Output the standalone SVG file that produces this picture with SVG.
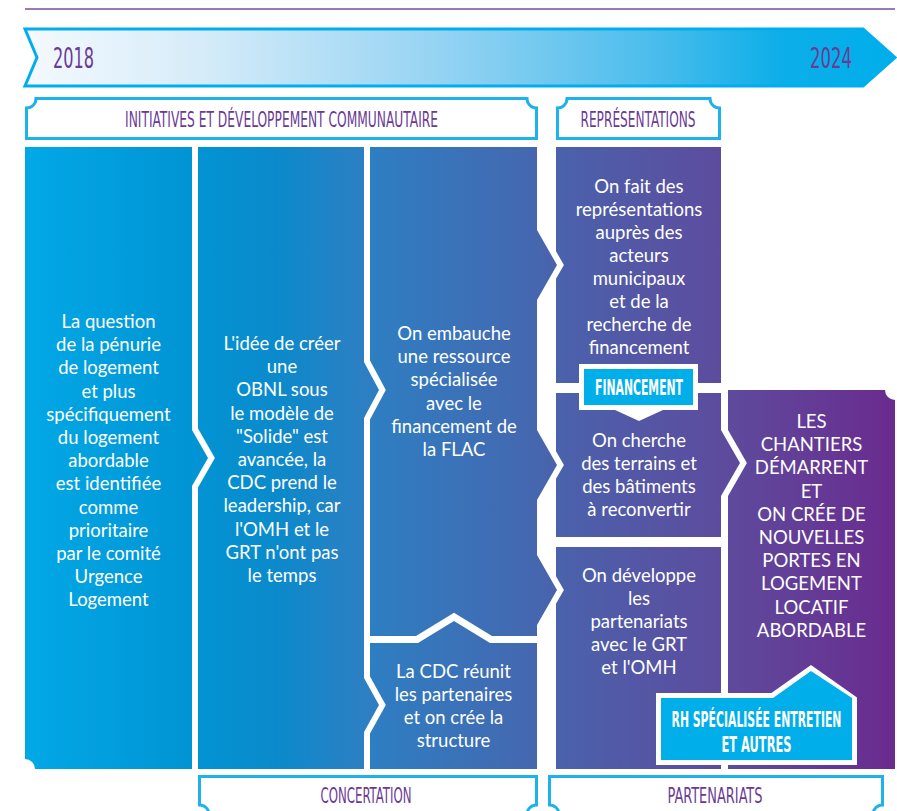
<svg xmlns="http://www.w3.org/2000/svg" width="897" height="811" viewBox="0 0 897 811">
<defs>
<linearGradient id="gArrow" gradientUnits="userSpaceOnUse" x1="25" y1="0" x2="895" y2="0">
<stop offset="0" stop-color="#f4f9fe"/>
<stop offset="0.2" stop-color="#d6ecf9"/>
<stop offset="0.49" stop-color="#92d2f2"/>
<stop offset="0.72" stop-color="#4cbdec"/>
<stop offset="0.87" stop-color="#0caee9"/>
<stop offset="1" stop-color="#00aeea"/>
</linearGradient>
<linearGradient id="gCol" gradientUnits="userSpaceOnUse" x1="25" y1="0" x2="895" y2="0">
<stop offset="0" stop-color="#02a8e6"/>
<stop offset="0.19" stop-color="#0194d4"/>
<stop offset="0.29" stop-color="#0b8acb"/>
<stop offset="0.39" stop-color="#2d7fc3"/>
<stop offset="0.58" stop-color="#4468b0"/>
<stop offset="0.61" stop-color="#4a62ac"/>
<stop offset="0.8" stop-color="#5d4c9e"/>
<stop offset="1" stop-color="#6a2b8e"/>
</linearGradient>
</defs>
<style>
.col{fill:url(#gCol);}
.frame{fill:#fff;stroke:#1eb2ea;stroke-width:3;}
.hd{font-family:"Liberation Sans Narrow","DejaVu Sans Condensed",sans-serif;font-size:21px;fill:#6a3a96;text-anchor:middle;}
.yr{font-family:"Liberation Sans Narrow","DejaVu Sans Condensed",sans-serif;font-size:28px;fill:#6a3a96;}
.tag{font-family:"Liberation Sans Narrow","DejaVu Sans Condensed",sans-serif;font-size:22px;fill:#fff;text-anchor:middle;font-weight:bold;}
.bd{font-family:Lato,"Noto Sans",sans-serif;font-size:18.5px;fill:#fff;text-anchor:middle;}
.cy{fill:#00aeea;}
.wh{fill:#fff;}
</style>
<rect width="897" height="811" fill="#fff"/>
<line x1="25" y1="9" x2="895" y2="9" stroke="#7a4c9f" stroke-width="1.3"/>

<g id="timeline">
<path d="M25,29 H863 L895,57.5 L863,86 H25 L37,57.5 Z" fill="url(#gArrow)" stroke="#00aeef" stroke-width="3" stroke-linejoin="miter"/>
<text class="yr" transform="translate(53,68) scale(0.7,1)" textLength="58.6" lengthAdjust="spacingAndGlyphs">2018</text>
<text class="yr" transform="translate(810,68) scale(0.7,1)" textLength="60" lengthAdjust="spacingAndGlyphs">2024</text>
</g>

<g id="hdr-initiatives">
<path class="frame" d="M26.5,138.5 V108 A9.5,9.5 0 0 0 36,98.5 H527 A9.5,9.5 0 0 0 536.5,108 V138.5 Z"/>
<text class="hd" transform="translate(281.5,127) scale(0.62,1)" textLength="504.8" lengthAdjust="spacingAndGlyphs">INITIATIVES ET DÉVELOPPEMENT COMMUNAUTAIRE</text>
</g>
<g id="hdr-representations">
<path class="frame" d="M557.5,138.5 V108 A9.5,9.5 0 0 0 567,98.5 H710 A9.5,9.5 0 0 0 719.5,108 V138.5 Z"/>
<text class="hd" transform="translate(638,127) scale(0.62,1)" textLength="185.5" lengthAdjust="spacingAndGlyphs">REPRÉSENTATIONS</text>
</g>

<g id="connectors"></g>

<g id="n1">
<path class="col" d="M25,147 H192 V430 L208,458 L192,486 V769 H35 A10,10 0 0 0 25,759 Z"/>
<text class="bd"><tspan x="108.5" y="328">La question</tspan><tspan x="108.5" y="351.2">de la pénurie</tspan><tspan x="108.5" y="374.4">de logement</tspan><tspan x="108.5" y="397.6">et plus</tspan><tspan x="108.5" y="420.8">spécifiquement</tspan><tspan x="108.5" y="444">du logement</tspan><tspan x="108.5" y="467.2">abordable</tspan><tspan x="108.5" y="490.4">est identifiée</tspan><tspan x="108.5" y="513.6">comme</tspan><tspan x="108.5" y="536.8">prioritaire</tspan><tspan x="108.5" y="560">par le comité</tspan><tspan x="108.5" y="583.2">Urgence</tspan><tspan x="108.5" y="606.4">Logement</tspan></text>
</g>

<g id="n2">
<path class="col" d="M198,147 H364 V362 L379,390 L364,418 V678 L379,705 L364,732 V769 H198 V487.6 L214.9,458 L198,428.4 Z"/>
<text class="bd"><tspan x="282" y="350">L'idée de créer</tspan><tspan x="282" y="373.2">une</tspan><tspan x="282" y="396.4">OBNL sous</tspan><tspan x="282" y="419.6">le modèle de</tspan><tspan x="282" y="442.8">"Solide" est</tspan><tspan x="282" y="466">avancée, la</tspan><tspan x="282" y="489.2">CDC prend le</tspan><tspan x="282" y="512.4">leadership, car</tspan><tspan x="282" y="535.6">l'OMH et le</tspan><tspan x="282" y="558.8">GRT n'ont pas</tspan><tspan x="282" y="582">le temps</tspan></text>
</g>

<g id="n3">
<path class="col" d="M370,147 H537 V230 L557,265 L537,300 V430 L557,465 L537,500 V555 L557,590 L537,625 V636 H492 L454,612.8 L416,636 H370 V419.5 L385.8,390 L370,360.5 Z"/>
<text class="bd"><tspan x="454" y="340">On embauche</tspan><tspan x="454" y="363.2">une ressource</tspan><tspan x="454" y="386.4">spécialisée</tspan><tspan x="454" y="409.6">avec le</tspan><tspan x="454" y="432.8">financement de</tspan><tspan x="454" y="456">la FLAC</tspan></text>
</g>

<g id="n4">
<path class="col" d="M370,643 H418 L454,621 L490,643 H537 V769 H370 V733.5 L385.8,705 L370,676.5 Z"/>
<text class="bd"><tspan x="453.5" y="678">La CDC réunit</tspan><tspan x="453.5" y="701">les partenaires</tspan><tspan x="453.5" y="724">et on crée la</tspan><tspan x="453.5" y="747">structure</tspan></text>
</g>

<g id="n5">
<path class="col" d="M556,147 H721 V383 H556 V278.8 L563.9,265 L556,251.2 Z"/>
<text class="bd"><tspan x="639" y="193">On fait des</tspan><tspan x="639" y="216">représentations</tspan><tspan x="639" y="239">auprès des</tspan><tspan x="639" y="262">acteurs</tspan><tspan x="639" y="285">municipaux</tspan><tspan x="639" y="308">et de la</tspan><tspan x="639" y="331">recherche de</tspan><tspan x="639" y="354">financement</tspan></text>
</g>

<g id="n6">
<path class="col" d="M556,393 H721 V430 L740,463 L721,496 V537 H556 V478.8 L563.9,465 L556,451.2 Z"/>
<text class="bd"><tspan x="639" y="447">On cherche</tspan><tspan x="639" y="470">des terrains et</tspan><tspan x="639" y="493">des bâtiments</tspan><tspan x="639" y="516">à reconvertir</tspan></text>
</g>

<g id="n7">
<path class="col" d="M556,547 H721 V769 H556 V603.8 L563.9,590 L556,576.2 Z"/>
<text class="bd"><tspan x="639" y="582">On développe</tspan><tspan x="639" y="605">les</tspan><tspan x="639" y="628">partenariats</tspan><tspan x="639" y="651">avec le GRT</tspan><tspan x="639" y="674">et l'OMH</tspan></text>
</g>

<g id="n8">
<path class="col" d="M728,390 H885 A10,10 0 0 0 895,400 V769 H728 V495.9 L746.9,463 L728,430.1 Z"/>
<text class="bd"><tspan x="811.5" y="428">LES</tspan><tspan x="811.5" y="451.2">CHANTIERS</tspan><tspan x="811.5" y="474.4">DÉMARRENT</tspan><tspan x="811.5" y="497.6">ET</tspan><tspan x="811.5" y="520.8">ON CRÉE DE</tspan><tspan x="811.5" y="544">NOUVELLES</tspan><tspan x="811.5" y="567.2">PORTES EN</tspan><tspan x="811.5" y="590.4">LOGEMENT</tspan><tspan x="811.5" y="613.6">LOCATIF</tspan><tspan x="811.5" y="636.8">ABORDABLE</tspan></text>
</g>

<g id="tag-financement">
<path class="wh" d="M579,364 H698 V410 H663 L639,421 L615,410 H579 Z"/>
<rect class="cy" x="584" y="369" width="109" height="36"/>
<text class="tag" transform="translate(639,395) scale(0.62,1)" textLength="142" lengthAdjust="spacingAndGlyphs">FINANCEMENT</text>
</g>

<g id="tag-rh">
<path class="wh" d="M656,693 H771.4 L811,664.9 L857,697.6 V765 H656 Z"/>
<path class="cy" d="M661,698 H773 L811,671 L852,698 V760 H661 Z"/>
<text class="tag" transform="translate(756.5,727) scale(0.62,1)" textLength="274" lengthAdjust="spacingAndGlyphs">RH SPÉCIALISÉE ENTRETIEN</text>
<text class="tag" transform="translate(756.5,752) scale(0.62,1)" textLength="113" lengthAdjust="spacingAndGlyphs">ET AUTRES</text>
</g>

<g id="ftr-concertation">
<path class="frame" d="M199.5,776.5 H536.5 V805 A9.5,9.5 0 0 0 527,814.5 H209 A9.5,9.5 0 0 0 199.5,805 Z"/>
<text class="hd" transform="translate(366,803) scale(0.62,1)" textLength="146.8" lengthAdjust="spacingAndGlyphs">CONCERTATION</text>
</g>
<g id="ftr-partenariats">
<path class="frame" d="M549.5,776.5 H882.5 V805 A9.5,9.5 0 0 0 873,814.5 H559 A9.5,9.5 0 0 0 549.5,805 Z"/>
<text class="hd" transform="translate(715,803) scale(0.62,1)" textLength="153.2" lengthAdjust="spacingAndGlyphs">PARTENARIATS</text>
</g>
</svg>
